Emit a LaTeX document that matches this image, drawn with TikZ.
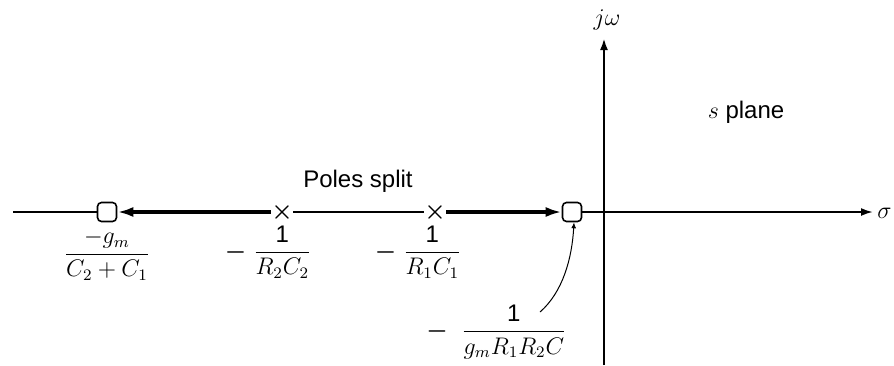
\documentclass[tikz,border=0pt]{standalone}
\usepackage{fontspec}
\setmainfont{Liberation Sans}
\usepackage{amsmath}
\usetikzlibrary{arrows.meta,positioning}

\begin{document}
\begin{tikzpicture}[x=0.5pt,y=-0.5pt,
  axis/.style={line width=1pt},
  locus/.style={line width=1.8pt},
  split/.style={line width=0.6pt},
  pole/.style={inner sep=0pt,font=\large},
  zbox/.style={draw,fill=white,rounded corners=2pt,line width=0.8pt,minimum size=9.5pt,inner sep=0pt},
  lab/.style={font=\large,inner sep=1pt},
]
\useasboundingbox (0,0) rectangle (894,365);
% axes
\coordinate (left) at (13,212);
\coordinate (right) at (873,212);
\coordinate (bot) at (604,365);
\coordinate (top) at (604,38);
\node[zbox] (b1) at (107,212) {};
\node[zbox] (b2) at (572,212) {};
\node[pole] (p2) at (282,212) {$\boldsymbol{\times}$};
\node[pole] (p1) at (435,212) {$\boldsymbol{\times}$};
\draw[axis] (left) -- (b1);
\draw[axis] (b2) -- (bot |- b2);
\draw[axis,-{Latex[length=6pt,width=4pt]}] (bot |- b2) -- (right);
\draw[line width=1.4pt,-{Latex[length=6pt,width=4pt]}] (bot) -- (top);
% root locus
\draw[locus,-{Latex[length=8pt,width=5pt]}] (p2) -- (b1);
\draw[split] (p2) -- (p1);
\draw[locus,-{Latex[length=8pt,width=5pt]}] (p1) -- (b2);
% labels
\node[font=\large,inner sep=0pt] (jw) at (607,20) {$j\omega$};
\node[font=\large,inner sep=0pt,anchor=west] (sig) at (877,213) {$\sigma$};
\node[font=\large] (spl) at (746,112) {$s$ plane};
\node[font=\large] (poles) at (358,181) {Poles split};
\node[lab] (l1) at (107,255) {$\dfrac{-g_m}{C_2+C_1}$};
\node[lab,anchor=east] (l2) at (314,252) {$\boldsymbol{-}\;\dfrac{\text{1}}{R_2C_2}$};
\node[lab,anchor=east] (l3) at (464,252) {$\boldsymbol{-}\;\dfrac{\text{1}}{R_1C_1}$};
\node[lab,anchor=east] (l4) at (569,332) {$\boldsymbol{-}\;\;\dfrac{\text{1}}{g_mR_1R_2C}$};
\coordinate (tail) at (540,312);
\draw[line width=0.5pt,-{Latex[length=3pt,width=2.5pt]}] (tail) .. controls (563,292) and (572,258) .. ([xshift=1pt]b2.south);
\end{tikzpicture}
\end{document}
